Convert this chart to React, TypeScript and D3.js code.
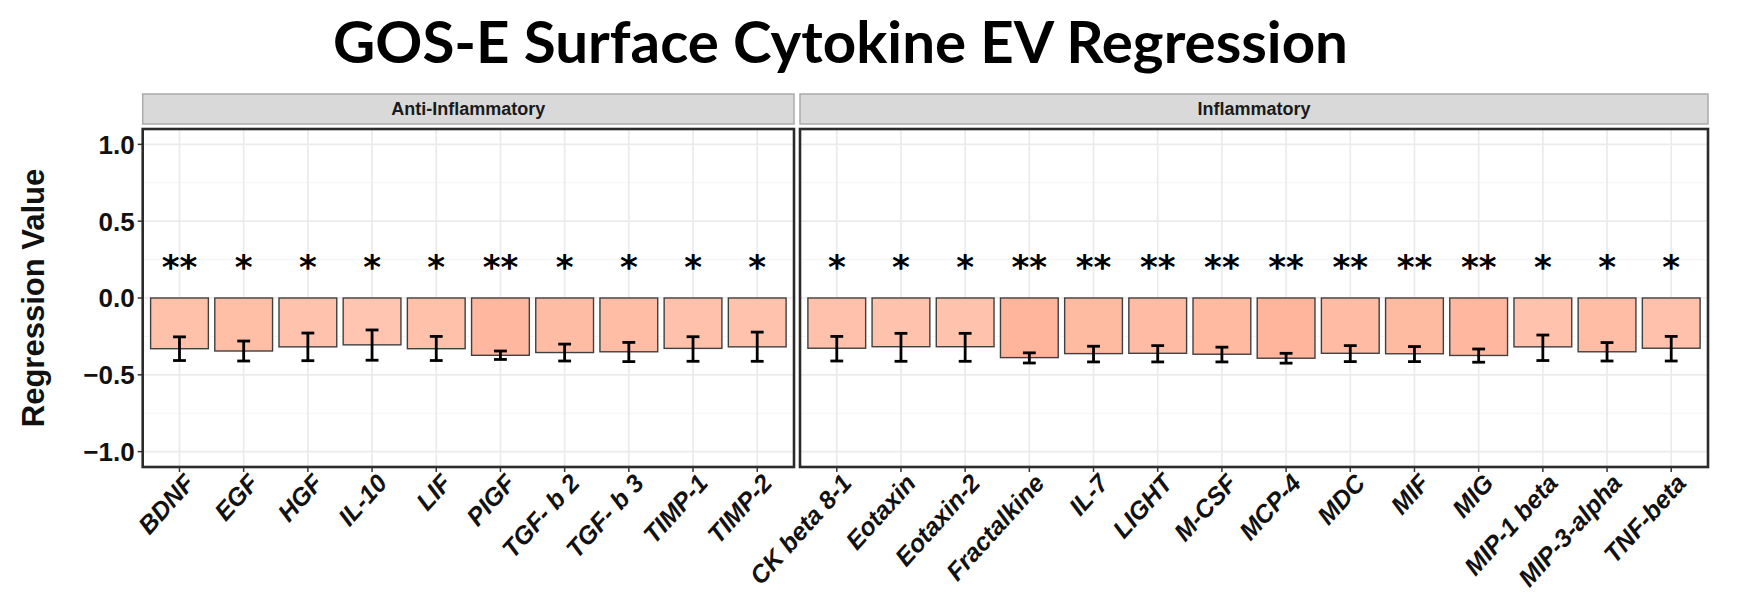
import * as d3 from "d3";

// ---- data ----
const titleText = "GOS-E Surface Cytokine EV Regression";
const yTitle = "Regression Value";
const panelTitles = ["Anti-Inflammatory", "Inflammatory"];

const antiCats = ["BDNF", "EGF", "HGF", "IL-10", "LIF", "PIGF", "TGF- b 2", "TGF- b 3", "TIMP-1", "TIMP-2"];
const antiMean = [-0.33, -0.345, -0.318, -0.305, -0.33, -0.373, -0.355, -0.35, -0.328, -0.318];
const antiLow = [-0.407, -0.41, -0.408, -0.405, -0.407, -0.4, -0.41, -0.414, -0.412, -0.412];
const antiHigh = [-0.253, -0.28, -0.228, -0.208, -0.25, -0.345, -0.3, -0.289, -0.252, -0.222];
const antiStars = ["**", "*", "*", "*", "*", "**", "*", "*", "*", "*"];

const inflCats = ["CK beta 8-1", "Eotaxin", "Eotaxin-2", "Fractalkine", "IL-7", "LIGHT", "M-CSF", "MCP-4", "MDC", "MIF", "MIG", "MIP-1 beta", "MIP-3-alpha", "TNF-beta"];
const inflMean = [-0.327, -0.317, -0.317, -0.388, -0.362, -0.36, -0.366, -0.392, -0.36, -0.363, -0.374, -0.318, -0.35, -0.327];
const inflLow = [-0.41, -0.412, -0.412, -0.423, -0.416, -0.416, -0.416, -0.424, -0.414, -0.414, -0.418, -0.407, -0.41, -0.41];
const inflHigh = [-0.25, -0.23, -0.23, -0.357, -0.314, -0.31, -0.32, -0.36, -0.31, -0.316, -0.332, -0.241, -0.29, -0.25];
const inflStars = ["*", "*", "*", "**", "**", "**", "**", "**", "**", "**", "**", "*", "*", "*"];

const yTicks = [1.0, 0.5, 0.0, -0.5, -1.0];
const yMinor = [0.75, 0.25, -0.25, -0.75];
const starLevel = 0.236;

// ---- layout ----
const W = 1738;
const H = 605;
const top = 129;
const bottom = 467;
const stripTop = 94;
const stripBottom = 124;

const panels = [
  { title: panelTitles[0], cats: antiCats, mean: antiMean, low: antiLow, high: antiHigh, stars: antiStars, x0: 142.7, x1: 794 },
  { title: panelTitles[1], cats: inflCats, mean: inflMean, low: inflLow, high: inflHigh, stars: inflStars, x0: 800, x1: 1708 },
];

const y = d3.scaleLinear().domain([-1.1, 1.1]).range([bottom, top]);
const fill = (v: number) => d3.interpolateLab("#ffffff", "#ff0000")(-v);

const sans = "'Liberation Sans', Arial, sans-serif";

function Panel({ p }: { p: (typeof panels)[number] }) {
  const x = d3.scalePoint<string>().domain(p.cats).range([p.x0, p.x1]).padding(0.573);
  const step = x.step();
  const bw = step * 0.9;
  const cap = step * 0.1;
  return (
    <g>
      {/* strip */}
      <rect x={p.x0} y={stripTop} width={p.x1 - p.x0} height={stripBottom - stripTop} fill="#d9d9d9" stroke="#ababab" strokeWidth={1.5} />
      <text x={(p.x0 + p.x1) / 2} y={(stripTop + stripBottom) / 2 + 6} textAnchor="middle" fontFamily={sans} fontWeight="bold" fontSize={18} fill="#1a1a1a">
        {p.title}
      </text>
      {/* grid */}
      {yMinor.map((t) => (
        <line key={"mn" + t} x1={p.x0} x2={p.x1} y1={y(t)} y2={y(t)} stroke="#f3f3f3" strokeWidth={0.9} />
      ))}
      {yTicks.map((t) => (
        <line key={"mj" + t} x1={p.x0} x2={p.x1} y1={y(t)} y2={y(t)} stroke="#ebebeb" strokeWidth={1.7} />
      ))}
      {p.cats.map((c) => (
        <line key={"vg" + c} x1={x(c)} x2={x(c)} y1={top} y2={bottom} stroke="#ebebeb" strokeWidth={1.7} />
      ))}
      {/* bars */}
      {p.cats.map((c, i) => (
        <rect key={"b" + c} x={(x(c) as number) - bw / 2} y={y(0)} width={bw} height={y(p.mean[i]) - y(0)} fill={fill(p.mean[i])} stroke="#404040" strokeWidth={1.4} />
      ))}
      {/* error bars */}
      {p.cats.map((c, i) => {
        const cx = x(c) as number;
        return (
          <g key={"e" + c} stroke="#000" strokeWidth={2.8}>
            <line x1={cx} x2={cx} y1={y(p.high[i])} y2={y(p.low[i])} />
            <line x1={cx - cap} x2={cx + cap} y1={y(p.high[i])} y2={y(p.high[i])} />
            <line x1={cx - cap} x2={cx + cap} y1={y(p.low[i])} y2={y(p.low[i])} />
          </g>
        );
      })}
      {/* significance */}
      {p.cats.map((c, i) => (
        <text key={"s" + c} x={x(c)} y={y(starLevel) + 17} textAnchor="middle" fontFamily="'DejaVu Sans', sans-serif" fontWeight="bold" fontSize={34} fill="#000">
          {p.stars[i]}
        </text>
      ))}
      {/* frame */}
      <rect x={p.x0} y={top} width={p.x1 - p.x0} height={bottom - top} fill="none" stroke="#2b2b2b" strokeWidth={2.6} />
      {/* x ticks + labels */}
      {p.cats.map((c) => {
        const cx = x(c) as number;
        return (
          <g key={"xt" + c}>
            <line x1={cx} x2={cx} y1={bottom} y2={bottom + 5} stroke="#333" strokeWidth={1.5} />
            <text transform={`translate(${cx + 3},${bottom + 5}) rotate(-48)`} dy="0.72em" textAnchor="end" fontFamily={sans} fontWeight="bold" fontStyle="italic" fontSize={25} fill="#111">
              {c}
            </text>
          </g>
        );
      })}
    </g>
  );
}

export default function App() {
  const x0 = panels[0].x0;
  return (
    <div style={{ position: "absolute", left: 0, top: 0 }}>
      <svg width={W} height={H} style={{ display: "block", background: "#fff" }}>
        <text x={333} y={63} fontFamily="Lato, 'Open Sans', sans-serif" fontWeight="bold" fontSize={58} textLength={1015} lengthAdjust="spacingAndGlyphs" fill="#000">
          {titleText}
        </text>
        <text transform={`translate(44,${(top + bottom) / 2}) rotate(-90)`} textAnchor="middle" fontFamily={sans} fontWeight="bold" fontSize={31} fill="#111">
          {yTitle}
        </text>
        {yTicks.map((t) => (
          <g key={"yt" + t}>
            <line x1={x0 - 5} x2={x0} y1={y(t)} y2={y(t)} stroke="#333" strokeWidth={1.5} />
            <text x={x0 - 8} y={y(t)} dy="0.36em" textAnchor="end" fontFamily={sans} fontWeight="bold" fontSize={26} fill="#111">
              {d3.format(".1f")(t)}
            </text>
          </g>
        ))}
        {panels.map((p) => (
          <Panel key={p.title} p={p} />
        ))}
      </svg>
    </div>
  );
}
